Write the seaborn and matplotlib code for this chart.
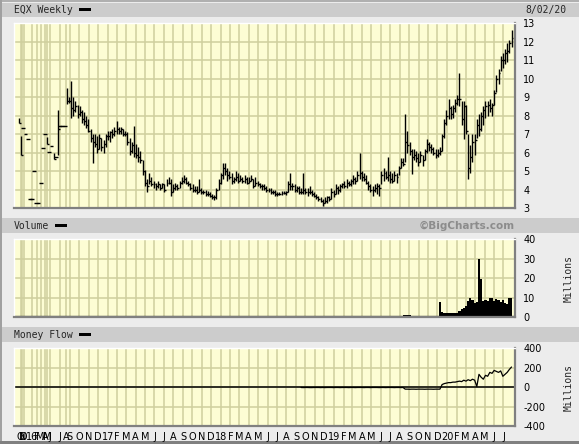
import numpy as np
import pandas as pd
import matplotlib
matplotlib.use("Agg")
import matplotlib.pyplot as plt
from matplotlib.patches import Rectangle
import seaborn as sns


# Données (barres hebdomadaires)
# ***********************************************************************************************

low = [7.6, 5.9, 7.35, 7.0, 6.75, 3.5, 3.5, 5.0, 3.3, 3.3,
       4.4, 6.25, 7.0, 6.5, 6.05, 6.35, 5.65, 5.8, 5.9, 7.45,
       7.45, 7.45, 8.65, 8.7, 7.9, 8.0, 8.2, 7.9, 8.0, 7.6,
       7.5, 7.35, 7.1, 6.6, 5.45, 6.3, 6.0, 6.2, 6.1, 6.0,
       6.3, 6.7, 6.6, 6.8, 6.9, 7.0, 7.0, 7.0, 6.9, 6.9,
       6.4, 5.9, 6.0, 5.8, 5.7, 5.5, 5.45, 4.8, 4.2, 3.9,
       4.3, 4.2, 4.1, 4.0, 4.1, 4.0, 4.1, 3.9, 4.2, 4.3,
       3.7, 3.9, 4.0, 4.0, 4.1, 4.3, 4.4, 4.3, 4.2, 4.0,
       3.9, 3.9, 3.8, 3.9, 3.8, 3.8, 3.7, 3.7, 3.6, 3.5,
       3.45, 3.5, 4.0, 4.3, 4.6, 4.8, 4.5, 4.6, 4.3, 4.4,
       4.5, 4.4, 4.5, 4.4, 4.4, 4.3, 4.4, 4.5, 4.1, 4.2,
       4.2, 4.1, 4.0, 4.0, 3.9, 3.9, 3.8, 3.8, 3.7, 3.65,
       3.75, 3.75, 3.8, 3.75, 3.9, 4.0, 4.0, 3.9, 3.9, 3.8,
       3.8, 3.8, 3.8, 3.7, 3.8, 3.7, 3.6, 3.5, 3.4, 3.35,
       3.15, 3.3, 3.3, 3.4, 3.5, 3.6, 3.8, 3.8, 3.9, 4.1,
       4.1, 4.1, 4.2, 4.2, 4.3, 4.3, 4.5, 4.6, 4.5, 4.5,
       4.3, 4.0, 3.9, 3.7, 3.9, 3.8, 3.65, 4.3, 4.5, 4.6,
       4.5, 4.4, 4.4, 4.5, 4.4, 4.8, 5.2, 5.3, 5.5, 6.0,
       5.9, 4.85, 5.6, 5.5, 5.3, 5.5, 5.3, 5.6, 6.0, 6.1,
       6.0, 5.9, 5.7, 5.8, 5.9, 6.1, 6.8, 7.5, 7.8, 7.8,
       7.9, 8.2, 8.6, 8.5, 7.5, 6.75, 7.0, 4.6, 4.9, 5.5,
       5.9, 6.8, 6.9, 7.2, 7.5, 7.9, 8.0, 8.2, 8.0, 8.6,
       9.3, 9.7, 10.4, 10.6, 10.8, 10.9, 11.4, 11.7]

high = [7.9, 6.9, 7.35, 7.0, 6.75, 3.5, 3.5, 5.0, 3.3, 3.3,
        4.4, 6.25, 7.0, 6.85, 6.05, 6.35, 6.0, 5.8, 8.3, 7.45,
        7.45, 7.45, 9.5, 9.0, 9.9, 9.0, 8.8, 8.6, 8.5, 8.3,
        8.2, 8.0, 7.8, 7.3, 7.0, 7.0, 6.9, 7.0, 6.8, 6.7,
        7.0, 7.2, 7.2, 7.3, 7.4, 7.7, 7.4, 7.4, 7.3, 7.2,
        7.1, 6.8, 6.6, 7.45, 6.5, 6.3, 6.1, 5.6, 5.1, 4.6,
        4.9, 4.7, 4.5, 4.4, 4.5, 4.3, 4.4, 4.3, 4.6, 4.7,
        4.6, 4.3, 4.4, 4.3, 4.5, 4.7, 4.8, 4.7, 4.5, 4.4,
        4.3, 4.2, 4.2, 4.6, 4.1, 4.0, 4.0, 3.95, 3.9, 3.8,
        3.75, 4.1, 4.6, 4.9, 5.45, 5.45, 5.2, 5.0, 4.9, 4.7,
        5.0, 4.9, 4.8, 4.7, 4.8, 4.7, 4.7, 4.8, 4.6, 4.7,
        4.5, 4.4, 4.3, 4.3, 4.2, 4.1, 4.1, 4.0, 4.0, 3.9,
        3.9, 3.95, 3.95, 3.95, 4.5, 4.9, 4.4, 4.3, 4.2, 4.2,
        4.1, 4.9, 4.1, 4.1, 4.2, 4.0, 3.9, 3.8, 3.7, 3.6,
        3.5, 3.6, 3.7, 3.7, 4.1, 4.0, 4.3, 4.2, 4.3, 4.4,
        4.5, 4.6, 4.5, 4.6, 4.8, 4.7, 5.0, 6.0, 5.0, 4.9,
        4.8, 4.5, 4.3, 4.2, 4.3, 4.4, 4.3, 5.0, 5.2, 5.0,
        5.8, 5.0, 4.9, 5.0, 4.9, 5.3, 5.7, 5.7, 8.1, 7.2,
        6.6, 6.2, 6.2, 6.1, 6.0, 6.1, 5.9, 6.2, 6.75, 6.6,
        6.5, 6.3, 6.2, 6.2, 6.3, 7.0, 7.8, 8.3, 8.9, 8.5,
        8.6, 8.9, 9.1, 10.3, 8.8, 8.8, 8.6, 7.0, 6.4, 7.0,
        7.0, 7.8, 8.1, 8.2, 8.5, 8.8, 8.8, 8.9, 8.7, 9.4,
        10.2, 10.5, 11.2, 11.4, 11.6, 11.9, 12.1, 12.6]

close = [7.6, 5.9, 7.35, 7.0, 6.75, 3.5, 3.5, 5.0, 3.3, 3.3,
         4.4, 6.25, 7.0, 6.5, 6.05, 6.35, 5.65, 5.8, 7.3, 7.45,
         7.45, 7.45, 8.8, 8.8, 8.4, 8.3, 8.5, 8.1, 8.2, 7.8,
         7.7, 7.5, 7.2, 6.8, 6.6, 6.5, 6.2, 6.8, 6.3, 6.5,
         6.9, 6.9, 7.1, 7.0, 7.2, 7.3, 7.2, 7.3, 7.0, 7.0,
         6.6, 6.1, 6.4, 6.0, 5.9, 5.8, 5.6, 5.0, 4.4, 4.2,
         4.5, 4.3, 4.3, 4.2, 4.3, 4.1, 4.3, 4.0, 4.4, 4.4,
         3.9, 4.1, 4.2, 4.1, 4.4, 4.5, 4.6, 4.4, 4.3, 4.1,
         4.0, 4.0, 3.9, 4.0, 3.9, 3.9, 3.8, 3.8, 3.7, 3.6,
         3.6, 4.0, 4.4, 4.8, 5.2, 5.0, 4.8, 4.7, 4.5, 4.6,
         4.7, 4.5, 4.6, 4.5, 4.6, 4.4, 4.5, 4.6, 4.2, 4.4,
         4.3, 4.2, 4.2, 4.1, 4.0, 4.0, 3.9, 3.9, 3.8, 3.8,
         3.8, 3.85, 3.85, 3.9, 4.3, 4.2, 4.2, 4.0, 4.1, 3.9,
         3.9, 4.0, 3.9, 3.9, 3.9, 3.8, 3.7, 3.6, 3.5, 3.4,
         3.3, 3.4, 3.6, 3.5, 3.9, 3.8, 4.1, 4.0, 4.2, 4.3,
         4.2, 4.4, 4.3, 4.5, 4.6, 4.5, 4.8, 4.9, 4.7, 4.6,
         4.4, 4.2, 4.0, 4.0, 4.1, 4.2, 4.1, 4.8, 4.9, 4.7,
         4.8, 4.6, 4.5, 4.8, 4.7, 5.2, 5.5, 5.4, 6.6, 6.4,
         6.1, 5.8, 5.9, 5.7, 5.5, 5.9, 5.6, 6.1, 6.5, 6.3,
         6.2, 6.0, 5.9, 6.0, 6.1, 6.9, 7.6, 8.0, 8.4, 8.1,
         8.4, 8.7, 8.9, 8.9, 7.8, 8.5, 7.2, 5.2, 5.8, 6.6,
         6.7, 7.5, 7.3, 8.0, 8.3, 8.5, 8.6, 8.4, 8.6, 9.2,
         10.0, 10.3, 11.0, 11.0, 11.4, 11.5, 11.9, 12.2]

# Volume (millions), à partir de la barre vol_start
vol_start = 177
volume = [1.0, 1.0, 1.0, 1.0, 0.2, 0.5, 0.2, 0.2, 0.2, 0.3,
          0.5, 0.5, 0.5, 0.3, 0.3, 0.3, 0.3, 7.7, 2.5, 2.0,
          1.8, 2.0, 1.8, 1.8, 1.9, 2.0, 3.0, 4.0, 4.5, 5.5,
          8.0, 9.7, 8.5, 7.0, 7.5, 30.0, 19.5, 8.0, 8.5, 8.0,
          9.5, 10.0, 8.0, 9.0, 8.5, 7.5, 8.5, 7.0, 6.5, 10.0,
          9.5]

# Money Flow (millions), à partir de la barre mf_start
mf_start = 130
money_flow = [-5, -6, -5, -5, -6, -6, -5, -5, -5, -6,
              -5, -6, -5, -5, -5, -6, -5, -5, -6, -5,
              -5, -5, -6, -5, -5, -6, -5, -5, -5, -6,
              -5, -5, -6, -5, -5, -5, -6, -5, -5, -6,
              -5, -5, -5, -6, -5, -5, -6, -5,
              -22, -22, -23, -22, -22, -23, -22, -22, -22, -23,
              -22, -22, -22, -23, -22, -22, -22,
              25, 35, 40, 45, 45, 50, 50, 55, 60, 55,
              70, 60, 75, 65, 80, 70, 5, 130, 100, 80,
              120, 110, 150, 140, 170, 160, 150, 165, 110, 130,
              150, 180, 205]

# Mois : étiquettes et position (indice de barre) des lignes verticales
early_labels = ["O", "N", "D", "16", "F", "M", "A", "M", "J", "J", "A"]
early_pos = [0.8, 1.5, 2.3, 5.9, 8.4, 10.0, 12.0, 12.8, 14.3, 18.9, 21.7]
last_week = "2020-07-27"
regular_months = pd.date_range("2016-09-01", "2020-07-01", freq="MS")

price_ticks = list(range(3, 14))
volume_ticks = [0, 10, 20, 30, 40]
mf_ticks = [-400, -200, 0, 200, 400]


# Mise en page
# ***********************************************************************************************

W, H = 579, 444
BG = "#ececec"
HEADER = "#cccccc"
PANEL = "#fdfdd4"
GRID = "#cfcf9e"

sns.set_theme(style="white")
plt.rcParams["font.family"] = ["DejaVu Sans"]
plt.rcParams["axes.unicode_minus"] = False

n_bars = len(high)
idx = np.arange(n_bars)

# position des mois réguliers à partir de la date de la dernière barre
reg_pos = (n_bars - 1) - (pd.Timestamp(last_week) - regular_months).days.values / 7.0
reg_labels = [str(d.year)[2:] if d.month == 1 else d.strftime("%b")[0] for d in regular_months]
month_pos = list(early_pos) + list(reg_pos)
month_labels = early_labels + reg_labels


def fbox(x0, y0, x1, y1):
    return [x0 / W, 1 - y1 / H, (x1 - x0) / W, (y1 - y0) / H]


def frect(x0, y0, x1, y1, color):
    fig.add_artist(Rectangle((x0 / W, 1 - y1 / H), (x1 - x0) / W, (y1 - y0) / H,
                             transform=fig.transFigure, facecolor=color, edgecolor="none", zorder=0))


def ftext(x, y, s, **kw):
    fig.text(x / W, 1 - y / H, s, **kw)


fig = plt.figure(figsize=(W / 100, H / 100), dpi=100, facecolor=BG)

# cadre et bandeaux
frect(0, 0, W, 2, "#b0b0b0")
frect(0, 0, 2, H, "#a0a0a0")
frect(0, H - 3, W, H, "#808080")
for y0, y1 in [(3, 17), (218, 233), (327, 342)]:
    frect(2, y0, W, y1, HEADER)

ax_p = fig.add_axes(fbox(14, 23, 515, 208.5))
ax_v = fig.add_axes(fbox(14, 239, 515, 317))
ax_m = fig.add_axes(fbox(14, 348, 515, 426))

for ax in (ax_p, ax_v, ax_m):
    ax.set_facecolor(PANEL)
    ax.set_xlim(-2.3, 228.6)
    ax.set_xticks(month_pos)
    ax.grid(True, color=GRID, linewidth=1.1)
    ax.set_axisbelow(True)
    ax.yaxis.tick_right()
    ax.tick_params(axis="both", length=0, labelsize=7, colors="black")
    ax.tick_params(axis="y", pad=6)
    for side in ("top", "left"):
        ax.spines[side].set_color("white")
        ax.spines[side].set_linewidth(1)
    for side in ("bottom", "right"):
        ax.spines[side].set_color("#808080")
        ax.spines[side].set_linewidth(1.6)

# Prix : barres OHLC hebdomadaires
ax_p.set_ylim(3, 13)
ax_p.set_yticks(price_ticks)
ax_p.set_xticklabels([])
ax_p.vlines(idx, low, high, color="black", linewidth=1.0)
tick_left = np.where(np.array(high) == np.array(low), 0.9, 0.0)
ax_p.hlines(close, idx - tick_left, idx + 0.9, color="black", linewidth=1.0)

# Volume
ax_v.set_ylim(0, 40)
ax_v.set_yticks(volume_ticks)
ax_v.set_xticklabels([])
vol_x = np.arange(vol_start, vol_start + len(volume))
ax_v.fill_between(vol_x, 0, volume, step="mid", color="black", linewidth=0)
ax_v.axhline(0, color="black", linewidth=1.6)

# Money Flow
ax_m.set_ylim(-400, 400)
ax_m.set_yticks(mf_ticks)
ax_m.set_xticklabels(month_labels)
ax_m.tick_params(axis="x", pad=4)
ax_m.axhline(0, color="black", linewidth=1.1)
df_mf = pd.DataFrame({"bar": np.arange(mf_start, mf_start + len(money_flow)), "mf": money_flow})
sns.lineplot(data=df_mf, x="bar", y="mf", ax=ax_m, color="black", linewidth=0.9)
ax_m.set_xlabel("")
ax_m.set_ylabel("")
ax_m.set_xlim(-2.3, 228.6)

for ax in (ax_p, ax_v, ax_m):
    for lab in ax.get_yticklabels():
        lab.set_horizontalalignment("left")

# Textes des bandeaux
mono = {"family": "DejaVu Sans Mono", "size": 7, "va": "center"}
ftext(14, 10, "EQX Weekly", **mono)
frect(79, 8.5, 91, 11.5, "black")
ftext(566, 10, "8/02/20", ha="right", family="DejaVu Sans Mono", size=7, va="center")
ftext(14, 225.5, "Volume", **mono)
frect(55, 224, 67, 227, "black")
ftext(515, 225.5, "\u00a9BigCharts.com", ha="right", va="center", size=7.5,
      weight="bold", color="#8c8c8c")
ftext(14, 334.5, "Money Flow", **mono)
frect(79, 333, 91, 336, "black")
for yc in (278, 387):
    ftext(569, yc, "Millions", rotation=90, ha="center", va="center",
          family="DejaVu Sans Mono", size=7)

fig.savefig("out.png", dpi=100, facecolor=BG)
